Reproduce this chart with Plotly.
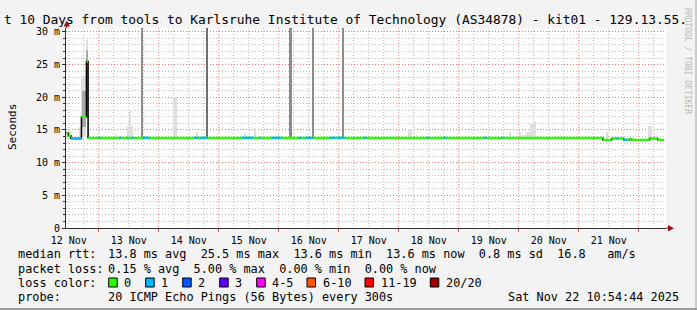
import pandas as pd
import plotly.graph_objects as go

# ---------------- data ----------------
x_range = ["2025-11-12 10:54:44", "2025-11-22 10:54:44"]

# median RTT (ms) as step changes; last entry marks the end of data
median_times = ["2025-11-12 11:05", "2025-11-12 11:53", "2025-11-12 12:53", "2025-11-12 17:05",
                "2025-11-12 19:05", "2025-11-12 19:45", "2025-11-21 09:36", "2025-11-21 13:12",
                "2025-11-21 18:00", "2025-11-21 20:24", "2025-11-21 21:12", "2025-11-22 04:24",
                "2025-11-22 07:36", "2025-11-22 10:00"]
median_ms = [14.5, 14.1, 13.7, 17.0, 25.5, 13.8, 13.5, 13.7, 13.5, 13.6, 13.5, 13.7, 13.5, 13.5]

# intervals with 1 lost packet
loss1_start = ["2025-11-12 12:53", "2025-11-13 00:00", "2025-11-13 08:07", "2025-11-13 11:19",
               "2025-11-13 13:12", "2025-11-13 17:29", "2025-11-14 14:00", "2025-11-14 16:12",
               "2025-11-15 09:05", "2025-11-15 16:07", "2025-11-15 21:05", "2025-11-16 08:00",
               "2025-11-16 10:24", "2025-11-16 20:24", "2025-11-16 23:43", "2025-11-17 09:43",
               "2025-11-18 11:05", "2025-11-18 18:00", "2025-11-19 10:07", "2025-11-19 17:05",
               "2025-11-21 15:05", "2025-11-21 18:00"]
loss1_end = ["2025-11-12 17:05", "2025-11-13 00:41", "2025-11-13 08:55", "2025-11-13 11:53",
             "2025-11-13 14:00", "2025-11-13 20:24", "2025-11-14 15:43", "2025-11-14 19:36",
             "2025-11-15 13:43", "2025-11-15 16:55", "2025-11-16 01:05", "2025-11-16 09:05",
             "2025-11-16 14:00", "2025-11-16 23:12", "2025-11-17 02:24", "2025-11-17 11:05",
             "2025-11-18 11:53", "2025-11-18 19:05", "2025-11-19 11:05", "2025-11-19 17:43",
             "2025-11-21 15:53", "2025-11-21 19:36"]

# light smoke (spread of individual pings)
smoke_start = ["2025-11-12 11:05", "2025-11-12 16:17", "2025-11-12 17:05", "2025-11-12 19:05",
               "2025-11-13 06:48", "2025-11-13 11:12", "2025-11-13 12:00", "2025-11-14 05:43",
               "2025-11-14 14:48", "2025-11-15 10:00", "2025-11-15 14:00", "2025-11-18 03:53",
               "2025-11-18 07:00", "2025-11-19 20:00", "2025-11-20 00:00", "2025-11-20 01:05",
               "2025-11-20 03:05", "2025-11-20 04:24", "2025-11-20 05:43", "2025-11-21 11:05",
               "2025-11-22 03:53"]
smoke_end = ["2025-11-12 12:53", "2025-11-12 17:05", "2025-11-12 19:05", "2025-11-12 19:53",
             "2025-11-13 07:36", "2025-11-13 13:36", "2025-11-13 13:00", "2025-11-14 07:19",
             "2025-11-14 15:36", "2025-11-15 11:05", "2025-11-15 15:05", "2025-11-18 05:12",
             "2025-11-18 07:36", "2025-11-19 21:05", "2025-11-20 01:05", "2025-11-20 03:05",
             "2025-11-20 04:24", "2025-11-20 05:43", "2025-11-20 07:05", "2025-11-21 11:53",
             "2025-11-22 05:12"]
smoke_lo = [13.6, 13.6, 14.0, 25.5, 13.6, 13.6, 13.6, 13.6, 13.6, 13.6, 13.6, 13.6,
            13.6, 13.6, 13.6, 13.6, 13.6, 13.6, 13.6, 13.6, 13.6]
smoke_hi = [14.9, 15.5, 23.2, 28.8, 14.2, 15.6, 18.0, 20.1, 14.7, 14.6, 15.3, 15.2,
            14.3, 14.7, 14.7, 14.3, 14.7, 15.9, 16.2, 14.7, 15.6]

# dense smoke (many pings in the band)
dense_start = ["2025-11-12 17:12", "2025-11-12 19:05"]
dense_end = ["2025-11-12 18:48", "2025-11-12 19:53"]
dense_lo = [15.5, 25.5]
dense_hi = [21.0, 27.3]

# smoke spikes going off the top of the scale
spike_start = ["2025-11-13 17:12", "2025-11-16 04:00", "2025-11-16 13:12", "2025-11-17 01:12"]
spike_end = ["2025-11-13 17:53", "2025-11-16 05:12", "2025-11-16 14:00", "2025-11-17 02:00"]
heavy_spike_start = ["2025-11-14 19:05"]
heavy_spike_end = ["2025-11-14 19:53"]
spike_lo_ms = 13.8
spike_hi_ms = 40.0

y_tickvals = [0, 5, 10, 15, 20, 25, 30]
y_ticktext = ["0", "5 m", "10 m", "15 m", "20 m", "25 m", "30 m"]

title_text = "t 10 Days from tools to Karlsruhe Institute of Technology (AS34878) - kit01 - 129.13.55."
legend_rows = [
    ("median rtt:", "13.8 ms avg  25.5 ms max  13.6 ms min  13.6 ms now  0.8 ms sd  16.8   am/s"),
    ("packet loss:", "0.15 % avg  5.00 % max  0.00 % min  0.00 % now"),
    ("loss color:", None),
    ("probe:", "20 ICMP Echo Pings (56 Bytes) every 300s"),
]
loss_labels = ["0", "1", "2", "3", "4-5", "6-10", "11-19", "20/20"]
loss_colors = ["#26ff00", "#00b8ff", "#0059ff", "#5e00ff", "#ff00ff", "#ff5500", "#ff0000", "#a10000"]
timestamp = "Sat Nov 22 10:54:44 2025"

# ---------------- layout geometry ----------------
W, H = 697, 310
L, R, T, B = 66, 31, 28, 82
PW, PH = W - L - R, H - T - B
def px(x):
    return (x - L) / PW
def py(y):
    return (H - B - y) / PH

MONO = "DejaVu Sans Mono"

def bars(starts, ends, lo, hi, color):
    s = pd.to_datetime(starts)
    e = pd.to_datetime(ends)
    centers = s + (e - s) / 2
    widths = [(b - a).total_seconds() * 1000 for a, b in zip(s, e)]
    if not isinstance(lo, list):
        lo = [lo] * len(starts)
    if not isinstance(hi, list):
        hi = [hi] * len(starts)
    return go.Bar(x=centers, y=[h - l for h, l in zip(hi, lo)], base=lo, width=widths,
                  marker=dict(color=color, line=dict(width=0)), hoverinfo="skip")

fig = go.Figure()
fig.add_trace(bars(smoke_start, smoke_end, smoke_lo, smoke_hi, "#dedede"))
fig.add_trace(bars(dense_start, dense_end, dense_lo, dense_hi, "#a8a8a8"))
fig.add_trace(bars(spike_start, spike_end, spike_lo_ms, spike_hi_ms, "#8c8c8c"))
fig.add_trace(bars(heavy_spike_start, heavy_spike_end, spike_lo_ms, spike_hi_ms, "#6e6e6e"))

mt = pd.to_datetime(median_times)
# black median line (visible at the vertical steps)
fig.add_trace(go.Scatter(x=mt, y=median_ms, mode="lines", line=dict(color="#000000", width=1.5, shape="hv"),
                         hoverinfo="skip"))
# green horizontal segments
gx, gy = [], []
for i in range(len(mt) - 1):
    gx += [mt[i], mt[i + 1], None]
    gy += [median_ms[i], median_ms[i], None]
fig.add_trace(go.Scatter(x=gx, y=gy, mode="lines", line=dict(color=loss_colors[0], width=2.2),
                         hoverinfo="skip"))
# blue segments (1 lost)
bx, by = [], []
for s, e in zip(pd.to_datetime(loss1_start), pd.to_datetime(loss1_end)):
    idx = max(i for i in range(len(mt)) if mt[i] <= s)
    bx += [s, e, None]
    by += [median_ms[idx], median_ms[idx], None]
fig.add_trace(go.Scatter(x=bx, y=by, mode="lines", line=dict(color=loss_colors[1], width=2.2),
                         hoverinfo="skip"))

annotations = []
shapes = []

# title
annotations.append(dict(text=title_text, x=px(2), y=py(19), xref="paper", yref="paper",
                        xanchor="left", yanchor="middle", showarrow=False,
                        font=dict(family=MONO, size=12.9, color="#000")))
# y title
annotations.append(dict(text="Seconds", x=px(12), y=py(127), xref="paper", yref="paper",
                        textangle=-90, xanchor="center", yanchor="middle", showarrow=False,
                        font=dict(family=MONO, size=11, color="#000")))
# rrdtool credit
annotations.append(dict(text="RRDTOOL / TOBI OETIKER", x=px(688), y=py(61), xref="paper", yref="paper",
                        textangle=90, xanchor="center", yanchor="middle", showarrow=False,
                        font=dict(family=MONO, size=8, color="#b8b8b8")))

LF = 11.85
row_y = [254, 268.5, 282.5, 296.5]
for (label, rest), ry in zip(legend_rows, row_y):
    annotations.append(dict(text=label, x=px(15.5), y=py(ry), xref="paper", yref="paper",
                            xanchor="left", yanchor="middle", showarrow=False,
                            font=dict(family=MONO, size=LF, color="#000")))
    if rest:
        annotations.append(dict(text=rest, x=px(105.5), y=py(ry), xref="paper", yref="paper",
                                xanchor="left", yanchor="middle", showarrow=False,
                                font=dict(family=MONO, size=LF, color="#000")))
annotations.append(dict(text=timestamp, x=px(681), y=py(row_y[3]), xref="paper", yref="paper",
                        xanchor="right", yanchor="middle", showarrow=False,
                        font=dict(family=MONO, size=LF, color="#000")))

box_x = [108.7, 145.7, 182.7, 219.7, 256.7, 307, 365, 430.3]
for bxp, lab, col in zip(box_x, loss_labels, loss_colors):
    shapes.append(dict(type="rect", xref="paper", yref="paper", x0=px(bxp), x1=px(bxp + 8.5),
                       y0=py(row_y[2] + 4.5), y1=py(row_y[2] - 4.5), fillcolor=col,
                       line=dict(color="#000", width=1)))
    annotations.append(dict(text=lab, x=px(bxp + 13.5), y=py(row_y[2]), xref="paper", yref="paper",
                            xanchor="left", yanchor="middle", showarrow=False,
                            font=dict(family=MONO, size=LF, color="#000")))

# axis arrows and extensions
shapes.append(dict(type="line", xref="paper", yref="paper", x0=px(66.5), x1=px(66.5), y0=py(28), y1=py(24),
                   line=dict(color="#303030", width=1)))
shapes.append(dict(type="path", xref="paper", yref="paper",
                   path=f"M {px(63.5)},{py(26.5)} L {px(70)},{py(26.5)} L {px(66.7)},{py(20.5)} Z",
                   fillcolor="#a01010", line=dict(width=0)))
shapes.append(dict(type="line", xref="paper", yref="paper", x0=px(666), x1=px(669), y0=0, y1=0,
                   line=dict(color="#303030", width=1)))
shapes.append(dict(type="path", xref="paper", yref="paper",
                   path=f"M {px(668)},{py(225)} L {px(668)},{py(231.5)} L {px(674)},{py(228.2)} Z",
                   fillcolor="#a01010", line=dict(width=0)))
# frame shading
shapes.append(dict(type="rect", xref="paper", yref="paper", x0=px(695), x1=px(697), y0=py(310), y1=py(0),
                   fillcolor="#cbcbcb", line=dict(width=0)))
shapes.append(dict(type="rect", xref="paper", yref="paper", x0=px(0), x1=px(697), y0=py(310), y1=py(308),
                   fillcolor="#9c9c9c", line=dict(width=0)))

fig.update_layout(
    width=W, height=H, margin=dict(l=L, r=R, t=T, b=B, pad=0),
    paper_bgcolor="#f3f3f3", plot_bgcolor="#ffffff",
    barmode="overlay", bargap=0, showlegend=False, hovermode=False,
    annotations=annotations, shapes=shapes,
    xaxis=dict(type="date", range=x_range, dtick=86400000, tick0="2025-11-12 00:00",
               tickformat="%d %b", ticklabelmode="period",
               showgrid=True, gridcolor="rgba(255,60,60,0.55)", griddash="1px,2px", gridwidth=1,
               ticks="outside", ticklen=3, tickcolor="#e05050",
               showline=True, linecolor="#303030", linewidth=1, zeroline=False,
               tickfont=dict(family=MONO, size=10, color="#000"),
               minor=dict(dtick=21600000, tick0="2025-11-12 00:00", showgrid=True,
                          gridcolor="rgba(150,150,150,0.6)", griddash="1px,2px", gridwidth=1)),
    yaxis=dict(range=[0, 30.6], tickmode="array", tickvals=y_tickvals, ticktext=y_ticktext,
               showgrid=True, gridcolor="rgba(255,60,60,0.55)", griddash="1px,2px", gridwidth=1,
               ticks="outside", ticklen=3, tickcolor="#303030",
               showline=True, linecolor="#303030", linewidth=1, zeroline=False,
               tickfont=dict(family=MONO, size=10, color="#000"),
               minor=dict(dtick=1, tick0=0, showgrid=True, ticks="outside", ticklen=2,
                          tickcolor="#303030",
                          gridcolor="rgba(150,150,150,0.6)", griddash="1px,2px", gridwidth=1)),
)

fig.write_html("out.html")
